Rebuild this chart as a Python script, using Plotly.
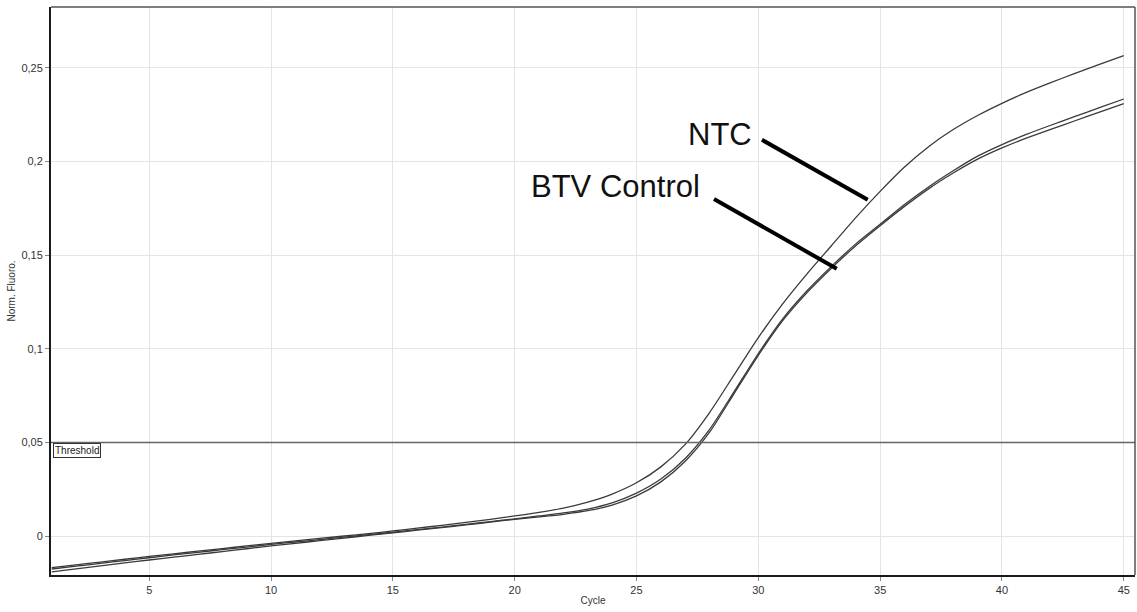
import plotly.graph_objects as go

cycles = list(range(1, 46))

ntc = [-0.0168, -0.0153, -0.0138, -0.0123, -0.0108, -0.0094, -0.0080, -0.0066, -0.0052, -0.0038,
       -0.0025, -0.0012, 0.0001, 0.0014, 0.0028, 0.0043, 0.0058, 0.0074, 0.0090, 0.0108,
       0.0127, 0.0150, 0.0182, 0.0225, 0.0285, 0.0370, 0.0490, 0.0660, 0.0860, 0.1060,
       0.1240, 0.1400, 0.1550, 0.1700, 0.1840, 0.1970, 0.2080, 0.2170, 0.2245, 0.2310,
       0.2368, 0.2420, 0.2470, 0.2518, 0.2565]

btv_1 = [-0.0175, -0.0160, -0.0145, -0.0130, -0.0115, -0.0100, -0.0086, -0.0072, -0.0058, -0.0044,
         -0.0031, -0.0018, -0.0005, 0.0008, 0.0021, 0.0035, 0.0049, 0.0063, 0.0078, 0.0093,
         0.0108, 0.0124, 0.0145, 0.0178, 0.0230, 0.0305, 0.0415, 0.0570, 0.0770, 0.0975,
         0.1160, 0.1310, 0.1440, 0.1560, 0.1665, 0.1770, 0.1865, 0.1950, 0.2028, 0.2090,
         0.2144, 0.2193, 0.2240, 0.2287, 0.2333]

btv_2 = [-0.0190, -0.0174, -0.0158, -0.0142, -0.0127, -0.0112, -0.0097, -0.0082, -0.0067, -0.0052,
         -0.0038, -0.0024, -0.0010, 0.0004, 0.0018, 0.0032, 0.0046, 0.0060, 0.0075, 0.0090,
         0.0103, 0.0117, 0.0136, 0.0166, 0.0215, 0.0290, 0.0400, 0.0555, 0.0760, 0.0965,
         0.1150, 0.1300, 0.1430, 0.1550, 0.1657, 0.1760, 0.1855, 0.1938, 0.2012, 0.2072,
         0.2124, 0.2171, 0.2217, 0.2263, 0.2308]

threshold = 0.05
x_ticks = [5, 10, 15, 20, 25, 30, 35, 40, 45]
y_ticks = [0, 0.05, 0.1, 0.15, 0.2, 0.25]
y_tick_text = ["0", "0,05", "0,1", "0,15", "0,2", "0,25"]

fig = go.Figure()
for name, vals in [("BTV Control 1", btv_2), ("BTV Control 2", btv_1), ("NTC", ntc)]:
    fig.add_trace(go.Scatter(x=cycles, y=vals, mode="lines", name=name,
                             line=dict(color="#3a3a3a", width=1.3, shape="spline", smoothing=0.7),
                             showlegend=False))

fig.add_trace(go.Scatter(x=[0.97, 45.46], y=[threshold, threshold], mode="lines",
                         line=dict(color="#666666", width=1.5), showlegend=False))

font_family = "Liberation Sans, Arial, sans-serif"

fig.update_layout(
    width=1137, height=612,
    margin=dict(l=51, r=2, t=7, b=37, autoexpand=False),
    paper_bgcolor="white", plot_bgcolor="white",
    separators=", ",
    font=dict(family=font_family, size=11, color="#333333"),
    xaxis=dict(range=[0.97, 45.46], tickvals=x_ticks, showgrid=True, gridcolor="#e4e4e4",
               gridwidth=1, zeroline=False, showline=True, linecolor="#1a1a1a", linewidth=2,
               ticks="outside", ticklen=4, tickcolor="#888888", automargin=False,
               title=dict(text="Cycle", font=dict(size=10, color="#333333"), standoff=2),
               tickfont=dict(size=11, color="#333333")),
    yaxis=dict(range=[-0.0207, 0.2824], tickvals=y_ticks, ticktext=y_tick_text,
               showgrid=True, gridcolor="#e4e4e4", gridwidth=1, zeroline=False,
               showline=True, linecolor="#1a1a1a", linewidth=2, automargin=False,
               ticks="outside", ticklen=4, tickcolor="#888888",
               title=dict(text="Norm. Fluoro.", font=dict(size=10, color="#333333"), standoff=4),
               tickfont=dict(size=11, color="#333333")),
)

# top and right frame (gray)
fig.add_shape(type="line", xref="paper", yref="paper", x0=0, x1=1, y0=1, y1=1,
              line=dict(color="#555555", width=1.5))
fig.add_shape(type="line", xref="paper", yref="paper", x0=1, x1=1, y0=0, y1=1,
              line=dict(color="#555555", width=1.5))

# Threshold label
fig.add_annotation(x=0.0015, xref="paper", y=threshold, yref="y", xanchor="left", yanchor="top",
                   text="Threshold", showarrow=False, font=dict(size=10, color="#222222"),
                   bordercolor="#333333", borderwidth=1, borderpad=1, bgcolor="white")

# Labels with leader lines
fig.add_annotation(x=28.42, y=0.2141, text="NTC", showarrow=False,
                   font=dict(size=31, color="#111111", family=font_family))
fig.add_annotation(x=24.15, y=0.1864, text="BTV Control", showarrow=False,
                   font=dict(size=31, color="#111111", family=font_family))
fig.add_shape(type="line", x0=30.15, y0=0.2115, x1=34.49, y1=0.1795,
              line=dict(color="black", width=4))
fig.add_shape(type="line", x0=28.18, y0=0.1800, x1=33.22, y1=0.1427,
              line=dict(color="black", width=4))

fig.write_html("out.html", config={"displayModeBar": False},
               post_script="document.body.style.margin='0px';document.body.style.overflow='hidden';")
